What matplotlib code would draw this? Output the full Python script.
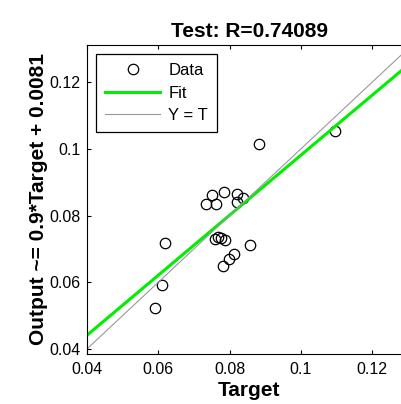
import matplotlib
matplotlib.use('Agg')
import matplotlib.pyplot as plt
import numpy as np

plt.rcParams['font.family'] = ['Liberation Sans', 'DejaVu Sans']

# Test set: targets and network outputs
target = [0.0882, 0.1097, 0.0751, 0.0785, 0.0822, 0.0838, 0.0822, 0.0735,
          0.0763, 0.0619, 0.0759, 0.0768, 0.0776, 0.0787, 0.0857, 0.0812,
          0.0798, 0.0782, 0.0610, 0.0591]
output = [0.1015, 0.1055, 0.0862, 0.0872, 0.0865, 0.0854, 0.0841, 0.0834,
          0.0834, 0.0719, 0.0729, 0.0735, 0.0732, 0.0727, 0.0712, 0.0685,
          0.0669, 0.0649, 0.0593, 0.0522]

fit_slope = 0.9
fit_offset = 0.0081
r_value = 0.74089

x_ticks = [0.04, 0.06, 0.08, 0.1, 0.12]
y_ticks = [0.04, 0.06, 0.08, 0.1, 0.12]
x_lim = (0.04, 0.1309)
y_lim = (0.0385, 0.1312)

fig = plt.figure(figsize=(4.01, 4.04), dpi=100)
ax = fig.add_axes([0.217, 0.124, 0.808, 0.765])

line_x = np.array(x_lim)
ax.plot(target, output, 'o', mfc='none', mec='black', ms=7.5, mew=0.9, label='Data')
ax.plot(line_x, fit_slope * line_x + fit_offset, color='#00ee00', lw=2.2, label='Fit')
ax.plot(line_x, line_x, color='#999999', lw=0.8, label='Y = T')

ax.set_xlim(*x_lim)
ax.set_ylim(*y_lim)
ax.set_xticks(x_ticks)
ax.set_yticks(y_ticks)
ax.set_xticklabels([f'{t:g}' for t in x_ticks])
ax.set_yticklabels([f'{t:g}' for t in y_ticks])
ax.tick_params(direction='in', length=3, width=0.8, top=True, right=True, labelsize=11.5)
ax.tick_params(axis='x', pad=6)
ax.tick_params(axis='y', pad=4.5)

ax.set_title(f'Test: R={r_value}', fontsize=15, fontweight='bold', pad=6)
ax.set_xlabel('Target', fontsize=15, fontweight='bold', labelpad=2.5)
ax.set_ylabel(f'Output ~= {fit_slope}*Target + {fit_offset}', fontsize=15,
              fontweight='bold', labelpad=1)

leg = ax.legend(loc='upper left', fontsize=12, fancybox=False, edgecolor='black',
                framealpha=1, handlelength=3.3, handletextpad=0.48,
                borderaxespad=0.54, labelspacing=0.45, borderpad=0.55)
leg.get_frame().set_linewidth(0.9)

fig.savefig('out.png', dpi=100)
